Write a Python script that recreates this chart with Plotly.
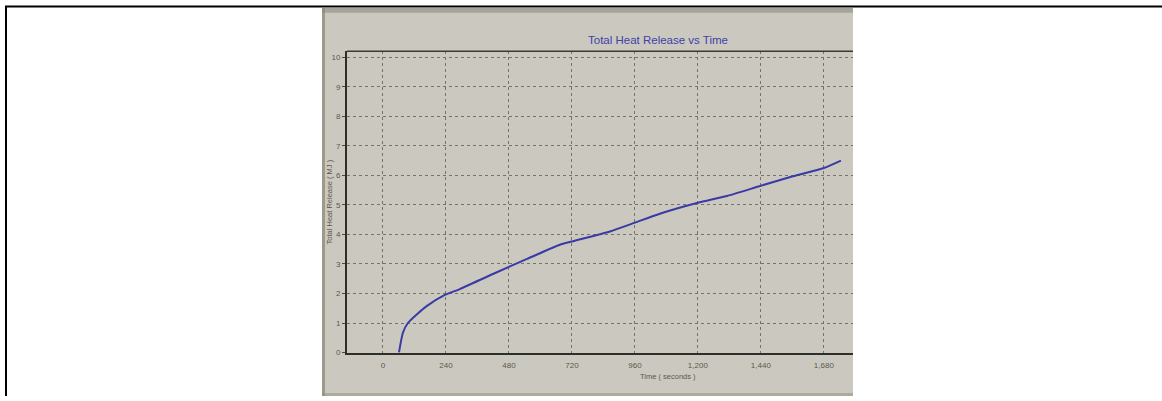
import plotly.graph_objects as go

# Data
time_s = [61, 76, 95, 130, 168, 236, 293, 419, 549, 674, 720, 865, 960, 1055, 1200, 1310, 1440, 1562, 1680, 1745]
total_heat_mj = [0, 0.67, 1.0, 1.3, 1.58, 1.95, 2.15, 2.66, 3.17, 3.65, 3.76, 4.1, 4.4, 4.7, 5.07, 5.3, 5.65, 5.97, 6.25, 6.5]
x_tick_vals = [0, 240, 480, 720, 960, 1200, 1440, 1680]
x_tick_text = ["0", "240", "480", "720", "960", "1,200", "1,440", "1,680"]
y_tick_vals = [0, 1, 2, 3, 4, 5, 6, 7, 8, 9, 10]

W, H = 1162, 401
PHOTO = "#cbc9bf"
FONT = "Liberation Sans, Arial, sans-serif"


def px_x(p):
    return p / W


def px_y(p):
    return 1 - p / H


fig = go.Figure()
fig.add_trace(go.Scatter(
    x=time_s, y=total_heat_mj, mode="lines",
    line=dict(color="#3a3aa6", width=2, shape="spline", smoothing=0.6),
    showlegend=False, hoverinfo="skip",
))

shapes = [
    # photo background
    dict(type="rect", xref="paper", yref="paper", x0=px_x(322), x1=px_x(853), y0=0, y1=px_y(8),
         fillcolor=PHOTO, line=dict(width=0), layer="below"),
    # darker band at top of photo
    dict(type="rect", xref="paper", yref="paper", x0=px_x(322), x1=px_x(853), y0=px_y(13), y1=px_y(8),
         fillcolor="#8f8b7e", opacity=0.6, line=dict(width=0), layer="below"),
    # darker left edge of photo
    dict(type="rect", xref="paper", yref="paper", x0=px_x(322), x1=px_x(325), y0=0, y1=px_y(8),
         fillcolor="#8a8577", opacity=0.7, line=dict(width=0), layer="below"),
    # darker band at bottom of photo
    dict(type="rect", xref="paper", yref="paper", x0=px_x(322), x1=px_x(853), y0=0, y1=px_y(398),
         fillcolor="#8f8b7e", opacity=0.5, line=dict(width=0), layer="below"),
    # outer table borders
    dict(type="line", xref="paper", yref="paper", x0=px_x(5), x1=1, y0=px_y(6.5), y1=px_y(6.5),
         line=dict(color="black", width=2)),
    dict(type="line", xref="paper", yref="paper", x0=px_x(6), x1=px_x(6), y0=0, y1=px_y(6),
         line=dict(color="black", width=2)),
    # top frame line of the chart
    dict(type="line", xref="paper", yref="paper", x0=px_x(347), x1=px_x(853), y0=px_y(52), y1=px_y(52),
         line=dict(color="#3a3a36", width=1.5)),
]

fig.update_layout(
    width=W, height=H,
    margin=dict(l=0, r=0, t=0, b=0),
    paper_bgcolor="white",
    plot_bgcolor=PHOTO,
    shapes=shapes,
    font=dict(family=FONT, color="#55534c", size=8),
    xaxis=dict(
        domain=[px_x(347), px_x(853)],
        range=[-137, 1791],
        tickvals=x_tick_vals, ticktext=x_tick_text,
        showgrid=True, gridcolor="#76736a", griddash="dot", gridwidth=1,
        showline=True, linecolor="#2e2e2a", linewidth=2,
        ticks="", zeroline=False,
        tickfont=dict(size=8, color="#5a5850"),
        ticklabelstandoff=4,
    ),
    yaxis=dict(
        domain=[px_y(357), px_y(52)],
        range=[0, 10.2],
        tickvals=y_tick_vals,
        showgrid=True, gridcolor="#76736a", griddash="dot", gridwidth=1,
        showline=True, linecolor="#2e2e2a", linewidth=2,
        ticks="outside", ticklen=3, tickcolor="#4a4840",
        zeroline=False,
        tickfont=dict(size=8, color="#5a5850"),
    ),
    annotations=[
        dict(text="Total Heat Release vs Time", xref="paper", yref="paper",
             x=px_x(658), y=px_y(40), xanchor="center", yanchor="middle", showarrow=False,
             font=dict(family=FONT, size=11.5, color="#4040a8")),
        dict(text="Total Heat Release ( MJ )", xref="paper", yref="paper",
             x=px_x(329), y=px_y(205), xanchor="center", yanchor="middle",
             textangle=-90, showarrow=False,
             font=dict(family=FONT, size=7.5, color="#5a5850")),
        dict(text="Time ( seconds )", xref="paper", yref="paper",
             x=px_x(668), y=px_y(381), xanchor="center", yanchor="middle", showarrow=False,
             font=dict(family=FONT, size=7.5, color="#5a5850")),
    ],
)

fig.write_html("out.html", config={"displayModeBar": False},
               post_script="document.body.style.margin='0px';")
